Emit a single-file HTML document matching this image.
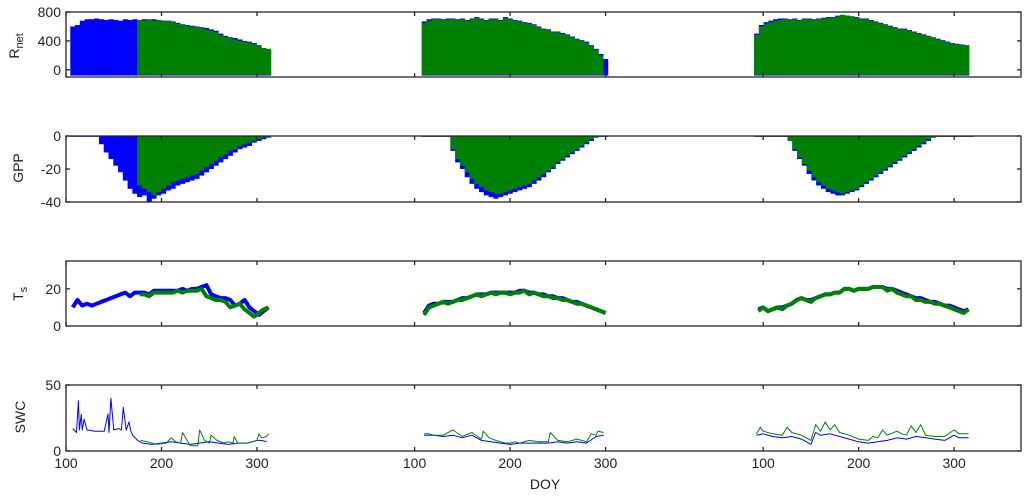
<!DOCTYPE html>
<html><head><meta charset="utf-8"><style>
html,body{margin:0;padding:0;background:#fff;}
svg{display:block;font-family:"Liberation Sans",Arial,sans-serif;}
</style></head><body>
<svg id="chart" width="1024" height="497" viewBox="0 0 1024 497" xmlns="http://www.w3.org/2000/svg"></svg>
<script>
// ---------- data ----------
const yearOffsets = [0, 365, 730];
const xTicks = [100, 200, 300];
const rnetMin = -80;
// Rnet (5-day step) start days and max values
const rnetStartBlue = [107, 110, 93];
const rnetStartGreen = [177, 110, 93];
const rnetBlueY1 = [600,620,680,700,700,710,700,690,700,690,680,700,690,700,690,700,680,700,690,680,680,670,650,630,620,610,600,590,580,560,540,500,470,450,440,420,400,390,370,340,300,280];
const rnetGreenY1 = [690,680,700,680,690,670,680,660,640,620,610,600,590,580,560,540,520,480,460,440,420,400,390,380,360,330,300,290];
const rnetBlueY2 = [670,700,710,710,700,710,710,700,710,690,710,730,710,690,710,710,690,730,710,690,680,660,650,630,600,570,560,530,530,510,490,460,430,410,390,340,290,220,150];
const rnetGreenY2 = [650,680,700,700,690,700,700,690,700,680,700,720,700,680,700,700,680,720,700,680,670,650,640,620,590,560,550,520,520,500,480,450,420,400,380,330,280,200];
const rnetBlueY3 = [500,620,660,680,700,710,710,700,710,690,710,710,700,710,720,730,730,750,760,750,740,730,710,710,690,670,650,630,610,590,570,570,550,530,510,490,470,450,430,410,390,370,360,350,340];
const rnetGreenY3 = [480,600,640,660,680,690,700,690,700,680,700,700,690,700,710,720,720,740,760,750,740,720,700,700,680,660,640,620,600,580,560,560,540,520,500,480,460,440,420,400,380,360,350,340,330];
// GPP (5-day step)
const gppStartBlue = [107, 110, 93];
const gppStartGreen = [177, 110, 93];
const gppBlueY1 = [0,0,0,0,0,0,-5,-10,-14,-18,-22,-27,-32,-35,-37,-36,-40,-38,-36,-35,-33,-32,-30,-29,-28,-27,-26,-24,-22,-20,-18,-16,-14,-12,-10,-8,-7,-6,-4,-3,-2,-1];
const gppGreenY1 = [-30,-32,-34,-36,-34,-32,-30,-28,-27,-26,-25,-24,-23,-21,-19,-17,-15,-13,-11,-9,-8,-6,-5,-4,-3,-2,-1,0];
const gppBlueY2 = [0,0,0,0,0,0,-9,-16,-20,-25,-29,-32,-34,-36,-37,-38,-37,-36,-35,-34,-33,-32,-31,-29,-27,-25,-22,-20,-17,-15,-13,-11,-9,-7,-5,-3,-1,0,0];
const gppGreenY2 = [0,0,0,0,0,0,-8,-14,-18,-22,-26,-29,-31,-33,-34,-35,-35,-34,-33,-32,-31,-30,-29,-27,-25,-23,-21,-19,-16,-14,-12,-10,-8,-6,-4,-2,-1,0,0];
const gppBlueY3 = [0,0,0,0,0,0,0,-3,-9,-14,-18,-23,-27,-30,-32,-34,-35,-36,-36,-35,-34,-33,-31,-29,-27,-25,-23,-21,-19,-17,-15,-13,-11,-9,-7,-5,-3,-1,0,0,0,0,0,0,0,0];
const gppGreenY3 = [0,0,0,0,0,0,0,-3,-8,-13,-17,-21,-25,-28,-30,-32,-33,-34,-35,-34,-33,-32,-30,-28,-26,-24,-22,-20,-18,-16,-14,-12,-10,-8,-6,-4,-2,-1,0,0,0,0,0,0,0,0];
// Ts (5-day step)
const tsStartBlue = [107, 110, 95];
const tsStartGreen = [177, 110, 95];
const tsBlueY1 = [10,14,11,12,11,12,13,14,15,16,17,18,16,18,18,18,17,19,19,19,19,19,19,20,19,20,20,21,22,17,16,15,15,14,11,12,14,10,8,6,8,10];
const tsGreenY1 = [17,17,16,18,18,18,18,18,19,18,19,19,19,20,16,15,14,14,13,10,11,12,9,7,5,7,9,10];
const tsBlueY2 = [7,11,12,12,13,13,13,14,15,15,16,17,17,17,18,18,18,18,18,18,19,19,18,18,17,17,16,16,15,15,14,13,13,12,11,10,9,8,7];
const tsGreenY2 = [6,10,11,12,13,12,13,14,14,15,16,17,16,17,18,17,18,18,17,18,18,19,17,18,17,16,16,15,15,14,14,13,12,12,11,10,9,8,7];
const tsBlueY3 = [9,10,8,9,10,10,11,12,14,15,14,14,15,16,17,17,18,18,20,20,19,20,20,20,21,21,21,20,20,19,18,17,16,15,15,14,13,13,12,11,11,10,9,8,9];
const tsGreenY3 = [8,10,8,9,10,9,11,12,14,15,14,13,15,16,17,17,18,18,20,20,19,20,20,20,21,21,21,19,20,18,17,16,16,14,14,13,13,12,12,11,10,9,8,7,9];
// SWC (irregular days)
const swcBlueDaysY1 = [107,111,113,114,116,117,119,122,130,140,144,145,147,150,155,158,160,163,166,168,170,175,180,190,200,210,220,230,240,250,260,270,280,290,300,305,310];
const swcBlueY1 = [17,14,38,16,28,16,24,16,15,15,28,14,40,16,17,16,33,16,22,15,12,8,6,5,6,7,6,5,6,7,6,5,6,6,8,8,7];
const swcGreenDaysY1 = [178,185,195,205,210,215,220,222,230,238,240,245,250,252,258,265,270,275,276,280,290,300,302,305,310,312];
const swcGreenY1 = [8,7,5,6,10,7,6,14,4,4,16,8,6,12,8,6,7,6,11,6,6,8,13,10,11,13];
const swcBlueDaysY2 = [110,120,130,140,150,160,170,180,190,200,210,220,230,240,250,260,270,280,290,298];
const swcBlueY2 = [12,12,11,12,10,12,8,7,6,5,6,6,6,6,7,6,7,6,11,12];
const swcGreenDaysY2 = [110,115,120,130,140,150,160,170,172,178,185,190,195,200,205,210,220,230,240,242,250,260,270,275,280,285,290,292,298];
const swcGreenY2 = [13,13,12,12,16,11,14,9,15,10,8,7,6,6,7,6,8,7,7,14,8,7,9,8,7,13,12,15,14];
const swcBlueDaysY3 = [93,100,110,120,130,140,150,155,160,170,180,190,200,210,220,230,240,250,260,270,280,290,300,305,315];
const swcBlueY3 = [12,13,11,10,11,9,5,14,12,13,11,9,7,6,7,8,10,9,11,10,9,8,12,10,10];
const swcGreenDaysY3 = [93,97,100,110,120,125,130,140,150,155,160,165,170,175,180,190,200,210,215,220,225,230,240,245,250,255,260,265,270,280,290,300,305,315];
const swcGreenY3 = [13,18,15,13,12,18,14,12,8,20,15,22,16,20,14,12,9,8,11,10,16,12,15,13,12,19,14,20,12,11,11,16,13,13];

// ---------- layout ----------
const NS = "http://www.w3.org/2000/svg";
const svg = document.getElementById('chart');
const X0 = 66, X1 = 1021, U0 = 100, U1 = 1100;
function xs(u){ return X0 + (u - U0) * (X1 - X0) / (U1 - U0); }
const BLUE = "#0000ff", GREEN = "#008000", AX = "#262626";
function mk(tag, attrs, parent){ const e = document.createElementNS(NS, tag); for (const k in attrs) e.setAttribute(k, attrs[k]); (parent || svg).appendChild(e); return e; }

const rows = [
  {name:'rnet', top:12, bot:77, lo:-100, hi:800, ticks:[0,400,800]},
  {name:'gpp', top:136, bot:202, lo:-40, hi:0, ticks:[-40,-20,0]},
  {name:'ts', top:261, bot:326, lo:0, hi:35, ticks:[0,20]},
  {name:'swc', top:385, bot:451, lo:0, hi:50, ticks:[0,50]}
];
function ysFn(r){ return v => r.bot - (v - r.lo) * (r.bot - r.top) / (r.hi - r.lo); }

const defs = mk('defs', {});
rows.forEach((r, i) => {
  const cp = mk('clipPath', {id:'clip' + i}, defs);
  mk('rect', {x:X0, y:r.top, width:X1 - X0, height:r.bot - r.top}, cp);
});

function barSeries(g, r, start, vals, base, color, off){
  const ys = ysFn(r); const w = 5 * (X1 - X0) / (U1 - U0);
  vals.forEach((v, k) => {
    const u = start + k * 5 + off;
    const y1 = ys(v), y2 = ys(base);
    const b = mk('rect', {x:xs(u) - w / 2, y:Math.min(y1, y2), width:w + 0.3, height:Math.max(0.8, Math.abs(y2 - y1)), fill:color}, g);
    
    
  });
}
function lineSeries(g, r, days, vals, color, off, sw, name){
  const ys = ysFn(r);
  const pts = vals.map((v, k) => xs(days[k] + off).toFixed(1) + ',' + ys(v).toFixed(1)).join(' ');
  const p = mk('polyline', {points:pts, fill:'none', stroke:color, 'stroke-width':sw, 'stroke-linejoin':'round'}, g);
  
  
}
function stepDays(start, n){ const a = []; for (let k = 0; k < n; k++) a.push(start + 5 * k); return a; }

// Rnet
{
  const r = rows[0]; const g = mk('g', {'clip-path':'url(#clip0)'});
   
  const B = [rnetBlueY1, rnetBlueY2, rnetBlueY3], G = [rnetGreenY1, rnetGreenY2, rnetGreenY3];
  for (let y = 0; y < 3; y++) barSeries(g, r, rnetStartBlue[y], B[y], rnetMin, BLUE, yearOffsets[y]);
  for (let y = 0; y < 3; y++) barSeries(g, r, rnetStartGreen[y], G[y], rnetMin + 10, GREEN, yearOffsets[y]);
}
// GPP
{
  const r = rows[1]; const g = mk('g', {'clip-path':'url(#clip1)'});
   
  const B = [gppBlueY1, gppBlueY2, gppBlueY3], G = [gppGreenY1, gppGreenY2, gppGreenY3];
  for (let y = 0; y < 3; y++) barSeries(g, r, gppStartBlue[y], B[y], 0, BLUE, yearOffsets[y]);
  for (let y = 0; y < 3; y++) barSeries(g, r, gppStartGreen[y], G[y], 0, GREEN, yearOffsets[y]);
}
// Ts
{
  const r = rows[2]; const g = mk('g', {'clip-path':'url(#clip2)'});
   
  const B = [tsBlueY1, tsBlueY2, tsBlueY3], G = [tsGreenY1, tsGreenY2, tsGreenY3];
  for (let y = 0; y < 3; y++) lineSeries(g, r, stepDays(tsStartBlue[y], B[y].length), B[y], BLUE, yearOffsets[y], 4, 'ts-blue-line');
  for (let y = 0; y < 3; y++) lineSeries(g, r, stepDays(tsStartGreen[y], G[y].length), G[y], GREEN, yearOffsets[y], 4, 'ts-green-line');
}
// SWC
{
  const r = rows[3]; const g = mk('g', {'clip-path':'url(#clip3)'});
   
  const BD = [swcBlueDaysY1, swcBlueDaysY2, swcBlueDaysY3], B = [swcBlueY1, swcBlueY2, swcBlueY3];
  const GD = [swcGreenDaysY1, swcGreenDaysY2, swcGreenDaysY3], G = [swcGreenY1, swcGreenY2, swcGreenY3];
  for (let y = 0; y < 3; y++) lineSeries(g, r, BD[y], B[y], BLUE, yearOffsets[y], 1, 'swc-blue-line');
  for (let y = 0; y < 3; y++) lineSeries(g, r, GD[y], G[y], GREEN, yearOffsets[y], 1, 'swc-green-line');
}

// axes
rows.forEach((r, i) => {
  const ys = ysFn(r);
  const fr = mk('rect', {x:X0, y:r.top, width:X1 - X0, height:r.bot - r.top, fill:'none', stroke:AX, 'stroke-width':1.3});
   
  yearOffsets.forEach(off => xTicks.forEach(t => {
    const x = xs(t + off);
    mk('line', {x1:x, x2:x, y1:r.top, y2:r.top + 4, stroke:AX, 'stroke-width':1.3});
    mk('line', {x1:x, x2:x, y1:r.bot, y2:r.bot - 4, stroke:AX, 'stroke-width':1.3});
    if (i === 3) {
      const tl = mk('text', {x:x, y:468, 'font-size':14, 'text-anchor':'middle', fill:'#222'});
      tl.textContent = t;
       
    }
  }));
  r.ticks.forEach(t => {
    const y = ys(t);
    mk('line', {x1:X0, x2:X0 + 4, y1:y, y2:y, stroke:AX, 'stroke-width':1.3});
    mk('line', {x1:X1, x2:X1 - 4, y1:y, y2:y, stroke:AX, 'stroke-width':1.3});
    const tl = mk('text', {x:61, y:y + 5, 'font-size':14, 'text-anchor':'end', fill:'#222'});
    tl.textContent = t;
     
  });
});
</script>
<div style="position:absolute;left:0;top:0;width:1024px;height:497px;pointer-events:none;font-family:'Liberation Sans',Arial,sans-serif;color:#222;font-size:14px;">
  <div style="position:absolute;left:-8px;top:36px;width:48px;text-align:center;transform:rotate(-90deg);">R<sub style="font-size:11px">net</sub></div>
  <div style="position:absolute;left:-6px;top:160px;width:48px;text-align:center;transform:rotate(-90deg);">GPP</div>
  <div style="position:absolute;left:-4px;top:284px;width:48px;text-align:center;transform:rotate(-90deg);">T<sub style="font-size:11px">s</sub></div>
  <div style="position:absolute;left:-4px;top:409px;width:48px;text-align:center;transform:rotate(-90deg);">SWC</div>
  <div style="position:absolute;left:520px;top:476px;width:50px;text-align:center;">DOY</div>
</div>
</body></html>
